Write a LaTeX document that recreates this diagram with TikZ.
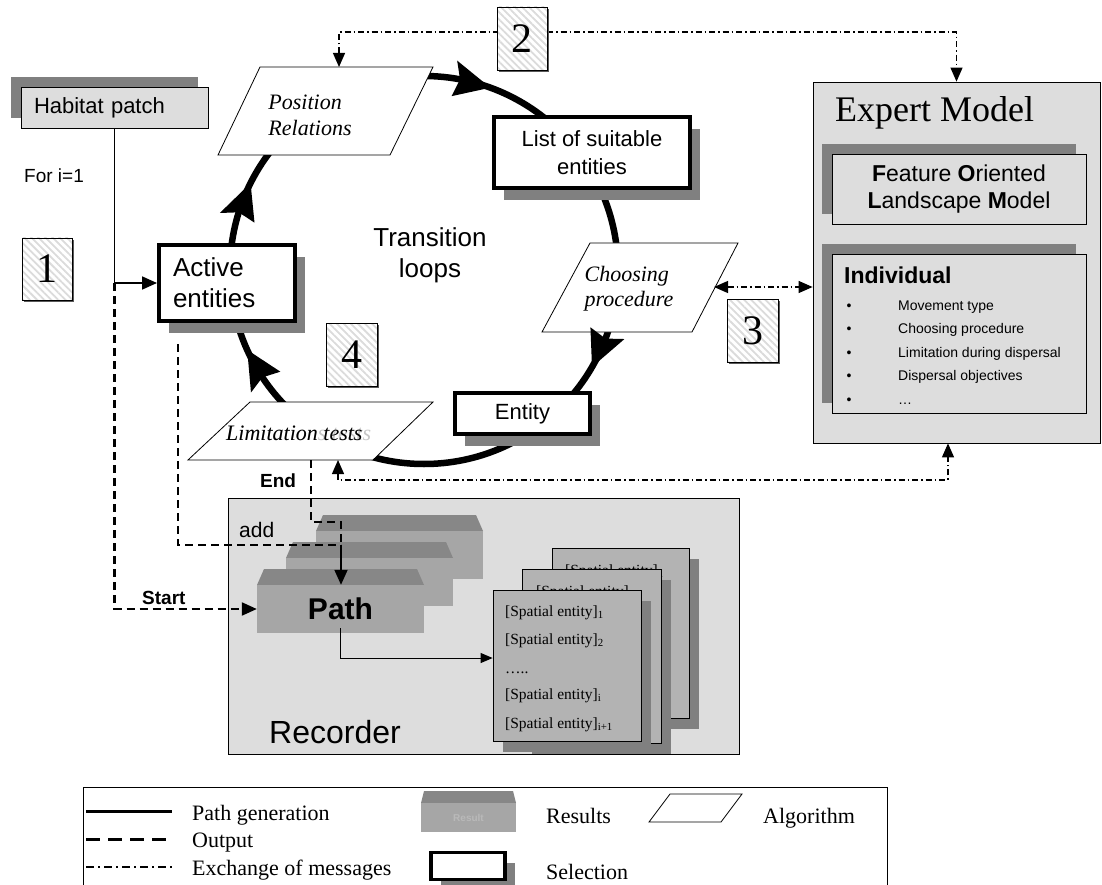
\documentclass[tikz,border=0pt]{standalone}
\usepackage{fontspec}
\setmainfont{Liberation Sans}
\newfontfamily\tms{Liberation Serif}
\usetikzlibrary{arrows.meta,shadows,patterns.meta,calc}

\definecolor{shade}{HTML}{808080}
\definecolor{panel}{HTML}{DDDDDD}
\definecolor{facegray}{HTML}{A6A6A6}
\definecolor{lidgray}{HTML}{878787}
\definecolor{sheetgray}{HTML}{B3B3B3}

\newcommand\fsz[2]{\fontsize{#1}{#2}\selectfont}

\tikzset{
  midhead/.tip={Triangle[length=15pt,width=13pt]},
  msghead/.tip={Triangle[length=14pt,width=12pt]},
  smallhead/.tip={Triangle[length=12pt,width=10pt]},
  loopline/.style={line width=6.5pt},
  gen/.style={line width=1.8pt},
  outp/.style={line width=2.2pt, dash pattern=on 8pt off 5pt},
  msg/.style={line width=1.2pt, dash pattern=on 6pt off 3pt on 1.5pt off 3pt},
  selbox/.style={draw, line width=4pt, fill=white, inner sep=0pt,
    drop shadow={shadow xshift=10pt,shadow yshift=-12pt,opacity=1,fill=shade}},
  panelbox/.style={draw, line width=0.8pt, fill=panel, inner sep=0pt},
  ulshadow/.style={drop shadow={shadow xshift=-10pt,shadow yshift=10pt,opacity=1,fill=shade}},
  numbox/.style={draw, line width=0.8pt, minimum width=50pt, minimum height=62pt,
    inner sep=0pt, font=\tms\fsz{42}{42},
    drop shadow={shadow xshift=2pt,shadow yshift=-2pt,opacity=1,fill=black!65},
    preaction={fill=white},
    pattern={Lines[angle=-45,distance=5pt,line width=1.8pt]}, pattern color=gray!28},
  algo/.style={draw, line width=0.8pt, fill=white},
  algtext/.style={font=\tms\itshape\fsz{22}{26}, inner sep=0pt},
  sheet/.style={draw, line width=0.8pt, fill=sheetgray, inner sep=0pt,
    drop shadow={shadow xshift=10pt,shadow yshift=-11pt,opacity=1,fill=shade}},
  sheettext/.style={anchor=base west, font=\tms\fsz{15.5}{18}, inner sep=0pt},
  legtext/.style={anchor=base west, font=\tms\fsz{22}{24}, inner sep=0pt},
  stack/.pic={
    \fill[lidgray] (0,0) -- (7,-16) -- (160,-16) -- (167,0) -- cycle;
    \fill[facegray] (0,0) rectangle (167,48);
  }
}

\begin{document}
\begin{tikzpicture}[x=1pt,y=-1pt]
\useasboundingbox (0,0) rectangle (1102,885);
\fill[white] (0,0) rectangle (1102,885);

% ---------- transition loop ----------
\coordinate (loopc) at (424,270);
\draw[loopline] (loopc) ++(0:194) arc[start angle=0, end angle=360, radius=194];

\node[font=\fsz{26}{31}, align=center] (trans) at (430,255) {Transition\\loops};

% ---------- habitat patch ----------
\node[panelbox, ulshadow, minimum width=187pt, minimum height=41pt,
  text width=161pt, align=left, font=\fsz{22}{26}] (habitat) at (114.5,107.5) {Habitat patch};
\node[anchor=base west, font=\fsz{19}{22}, inner sep=0pt] (fori) at (24,183) {For i=1};

% ---------- selections ----------
\node[selbox, minimum width=136pt, minimum height=76pt, text width=108pt,
  align=left, font=\fsz{26}{31}] (active) at (227,283) {Active\\entities};
\node[selbox, minimum width=196pt, minimum height=71pt, align=center,
  font=\fsz{22}{28}] (list) at (592,152.5) {List of suitable\\entities};
\node[selbox, minimum width=135pt, minimum height=41pt,
  font=\fsz{22}{26}] (entity) at (522.5,413.5) {Entity};

% ---------- algorithms ----------
\draw[algo] (218,155) -- (390,155) -- (433,67) -- (260,67) -- cycle;
\node[algtext, align=left] (posrel) at (310,115) {Position\\Relations};
\coordinate (prtop) at (339,67);

\draw[algo] (542,332) -- (692,332) -- (738,243) -- (590,243) -- cycle;
\node[algtext, align=left, font=\tms\itshape\fsz{22}{25}] (choose) at (629,289) {Choosing\\procedure};
\coordinate (cpright) at (714,287);

\draw[algo] (188,460) -- (373,460) -- (433,402) -- (250,402) -- cycle;
\node[algtext, anchor=base west, text=gray!45] (limghost) at (226,440) {Limitations tests};
\node[algtext, anchor=base west] (limit) at (226,440) {Limitation tests};
\coordinate (endtop) at (311,460);
\coordinate (ltbot) at (338,460);

% clockwise heads on the loop, following the circle
\foreach \a in {30,155.7,206.6,290}{
  \fill ($(loopc)+(\a:194)$) -- ($(loopc)+(\a-11:212)$) -- ($(loopc)+(\a-9.3:194)$)
        -- ($(loopc)+(\a-11:176)$) -- cycle;
}

% ---------- expert model ----------
\node[panelbox, minimum width=287pt, minimum height=361pt] (expert) at (956.5,262.5) {};
\node[anchor=base west, font=\tms\fsz{36}{40}, inner sep=0pt] (extitle) at (835,122) {Expert Model};
\node[panelbox, ulshadow, minimum width=254pt, minimum height=70pt, align=center,
  font=\fsz{23}{27}] (folm) at (959,189)
  {\textbf{F}eature \textbf{O}riented\\\textbf{L}andscape \textbf{M}odel};
\node[panelbox, ulshadow, minimum width=254pt, minimum height=159pt] (indiv) at (959,333.5) {};
\node[anchor=base west, font=\bfseries\fsz{23}{27}, inner sep=0pt] (indtitle) at (844,283) {Individual};
\foreach \txt [count=\k] in {Movement type, Choosing procedure, Limitation during dispersal, Dispersal objectives, …}{
  \node[anchor=base, font=\fsz{14}{16}, inner sep=0pt] (bul\k) at (849,{286.5+23.5*\k}) {•};
  \node[anchor=base west, font=\fsz{14}{16}, inner sep=0pt] (item\k) at (898,{286.5+23.5*\k}) {\txt};
}

% ---------- recorder ----------
\node[panelbox, minimum width=511pt, minimum height=256pt] (recorder) at (483.5,626) {};
\node[anchor=base west, font=\fsz{32}{36}, inner sep=0pt] (rectitle) at (269,743) {Recorder};

\pic at (316,531) {stack};
\pic at (286,558) {stack};
\pic at (257,585) {stack};
\node[minimum width=167pt, minimum height=48pt, inner sep=0pt,
  font=\bfseries\fsz{30}{34}] (pathbox) at (340.5,609) {Path};

\node[sheet, minimum width=137pt, minimum height=170pt] (sheetA) at (620.5,633) {};
\node[sheettext] (sa1) at (565,575) {[Spatial entity]\textsubscript{1}};
\node[sheet, minimum width=139pt, minimum height=174pt] (sheetB) at (591.5,656) {};
\node[sheettext] (sb1) at (536,596) {[Spatial entity]\textsubscript{1}};
\node[sheet, minimum width=148pt, minimum height=151pt] (sheetC) at (567,665.5) {};
\node[sheettext] (sc1) at (505,616) {[Spatial entity]\textsubscript{1}};
\node[sheettext] (sc2) at (505,644) {[Spatial entity]\textsubscript{2}};
\node[sheettext] (sc3) at (505,673) {…..};
\node[sheettext] (sc4) at (505,699) {[Spatial entity]\textsubscript{i}};
\node[sheettext] (sc5) at (505,728) {[Spatial entity]\textsubscript{i+1}};

% ---------- path generation and output ----------
\coordinate (split) at (habitat.south |- active.west);
\draw[gen, -{midhead}] (habitat.south) -- (split) -- (active.west);
\draw[outp, -{midhead}] (split) |- (pathbox.west);

\coordinate (addtop) at ([xshift=21pt,yshift=-21pt]active.south west);
\coordinate (merge) at (341,545);
\coordinate (ebend) at (311,522);
\coordinate (ejog) at (341,522);
\draw[outp] (addtop) |- (merge);
\draw[outp] (endtop) -- (ebend) -- (ejog) -- (merge);
\draw[gen, -{midhead}] (merge) -- (merge |- pathbox.north);
\draw[line width=1pt, -{smallhead}] ([yshift=5pt]pathbox.south) |- ([yshift=7.5pt]sheetC.west);

\node[anchor=base west, font=\bfseries\fsz{19}{22}, inner sep=0pt] (startlbl) at (142,604) {Start};
\node[anchor=base west, font=\bfseries\fsz{19}{22}, inner sep=0pt] (endlbl) at (260,487) {End};
\node[anchor=base west, font=\fsz{21}{24}, inner sep=0pt] (addlbl) at (239,537) {add};

% ---------- message exchange ----------
\coordinate (m2a) at (339,32);
\coordinate (m2b) at (expert.north |- m2a);
\draw[msg, {msghead}-{msghead}] (prtop) -- (m2a) -- (m2b) -- (expert.north);
\draw[msg, {msghead}-{msghead}] (cpright) -- (cpright -| expert.west);
\coordinate (m4a) at (338,480);
\coordinate (m4b) at (948,480);
\draw[msg, {msghead}-{msghead}] (ltbot) -- (m4a) -- (m4b) -- (m4b |- expert.south);

% ---------- step numbers ----------
\node[numbox] (n1) at (47,269) {1};
\node[numbox, minimum height=63pt] (n2) at (522,38.5) {2};
\node[numbox, minimum width=51pt, minimum height=63pt] (n3) at (752.5,330.5) {3};
\node[numbox, minimum width=51pt, minimum height=63pt] (n4) at (351.5,354.5) {4};

% ---------- legend ----------
\draw[line width=1pt] (83,890) -- (83,787) -- (887,787) -- (887,890);
\draw[line width=3pt] (86,811) -- (172,811);
\draw[line width=3pt, dash pattern=on 14pt off 8pt] (86,839) -- (172,839);
\draw[line width=2.5pt, dash pattern=on 8pt off 4pt on 2pt off 4pt] (86,867) -- (172,867);
\node[legtext] (lg1) at (192,820) {Path generation};
\node[legtext] (lg2) at (192,847) {Output};
\node[legtext] (lg3) at (192,875) {Exchange of messages};

\fill[lidgray] (421,803) -- (424,791) -- (513,791) -- (516,803) -- cycle;
\fill[facegray] (421,803) rectangle (516,832);
\node[font=\bfseries\fsz{10}{12}, text=gray!55] (resicon) at (468.5,818) {Result};
\node[legtext] (lg4) at (546,823) {Results};

\node[selbox, line width=3.5pt, minimum width=74pt, minimum height=27pt,
  drop shadow={shadow xshift=10pt,shadow yshift=-10pt,opacity=1,fill=shade}] (selicon) at (468,866) {};
\node[legtext] (lg5) at (546,879) {Selection};

\draw[algo] (649,822) -- (721,822) -- (742,794) -- (670,794) -- cycle;
\node[legtext] (lg6) at (763,823) {Algorithm};

\end{tikzpicture}
\end{document}
